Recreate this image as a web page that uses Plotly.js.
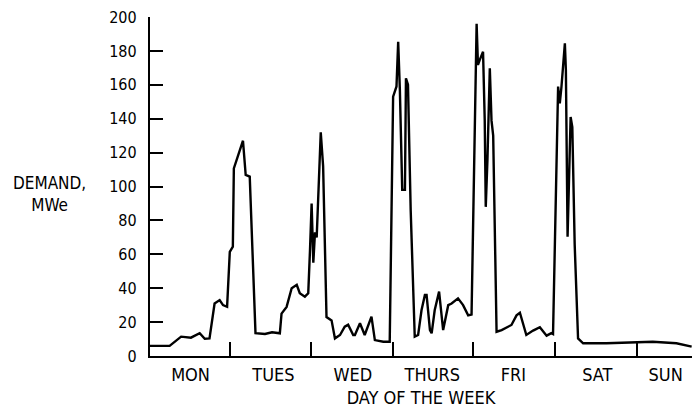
<!DOCTYPE html>
<html>
<head>
<meta charset="utf-8">
<script src="https://cdn.plot.ly/plotly-3.0.1.min.js"></script>
<style>html,body{margin:0;padding:0;background:#fff;}#chart{width:692px;height:411px;}</style>
</head>
<body>
<div id="chart"></div>
<script>
// Hours since start of Monday
const hours = [0, 5.8, 9.2, 12.1, 14.7, 16.2, 17.6, 19.1, 20.6, 21.6, 22.8, 23.6, 24.5, 24.8, 27.5, 28.3, 29.5,
  31.2, 34.0, 36.1, 38.4, 38.9, 40.4, 41.9, 43.4, 44.3, 45.8, 46.8, 47.3, 47.8, 48.3, 48.8, 49.3, 50.5, 51.2,
  52.2, 53.7, 54.7, 56.2, 57.6, 58.6, 60.1, 60.6, 62.1, 63.5, 65.5, 66.5, 69.0, 70.9,
  71.9, 72.9, 73.4, 73.9, 74.6, 75.4, 75.7, 76.3, 77.1, 78.3, 79.3, 80.3, 81.3, 81.8, 82.8, 83.3, 84.2, 85.5,
  86.7, 88.2, 89.2, 91.1, 92.6, 94.1, 95.1,
  96.6, 97.0, 97.5, 98.5, 99.0, 99.3, 99.8, 100.5, 101.0, 101.5, 102.5, 104.0, 106.9, 108.4, 109.4,
  111.3, 113.3, 115.3, 117.3, 118.7, 119.2,
  120.7, 121.2, 121.7, 122.7, 123.0, 123.5, 123.9, 124.4, 124.9, 125.6, 126.6, 128.1, 135.0, 142.9,
  148.7, 155.7, 160.2];
// Demand, MWe
const demand = [6, 6, 11.4, 10.8, 13.4, 10.2, 10.4, 31, 33, 30, 29, 61.5, 64.5, 110.7, 127, 106.8, 105.8,
  13.5, 13, 14, 13.4, 25, 29, 40, 42, 37, 35, 37, 61.5, 90, 55, 73, 70, 132, 112,
  23, 21, 10.4, 12.4, 17.3, 18.5, 12.4, 12.4, 19.3, 12.4, 23.2, 9.4, 8.4, 8.4,
  153, 159, 185.4, 157, 98, 98, 163.8, 160, 86, 11.4, 12.4, 27, 36, 36, 15.3, 13.4, 27, 38,
  15.3, 30, 31, 34, 30, 24, 24.5,
  196, 171.7, 174.6, 179.5, 139, 88, 115.6, 169.7, 139, 130, 14.3, 15.3, 18.3, 24, 25.5,
  12.4, 15, 17, 12, 13.5, 13,
  159, 149, 159, 184.5, 168.7, 70.4, 111.7, 141, 135, 66, 10.4, 7.5, 7.5, 8,
  8.4, 7.5, 5.5];

const dayNames = ['MON', 'TUES', 'WED', 'THURS', 'FRI', 'SAT', 'SUN'];
const dayLabelPos = [12, 36.5, 60, 83.5, 107.5, 132.3, 152.5];
const dayBoundaries = [23.6, 47.6, 71.8, 95.5, 119.7, 144];
const yTicks = [0, 20, 40, 60, 80, 100, 120, 140, 160, 180, 200];

const FONT = '"DejaVu Sans Condensed", "Liberation Sans Narrow", sans-serif';
const xRange = [0, 160.3];

const traces = [
  {x: hours, y: demand, type: 'scatter', mode: 'lines',
   line: {color: '#000', width: 2.4, shape: 'linear'}, hoverinfo: 'skip', xaxis: 'x', yaxis: 'y'},
  {x: [], y: [], type: 'scatter', mode: 'lines', xaxis: 'x2', yaxis: 'y', hoverinfo: 'skip'}
];

const layout = {
  width: 692, height: 411,
  margin: {l: 150, r: 0, t: 17, b: 55},
  paper_bgcolor: '#fff', plot_bgcolor: '#fff',
  showlegend: false,
  font: {family: FONT, color: '#000'},
  xaxis: {
    range: xRange, tickmode: 'array', tickvals: dayLabelPos, ticktext: dayNames,
    ticks: '', showgrid: false, zeroline: false, showline: true, linecolor: '#000', linewidth: 2,
    tickfont: {size: 18, family: FONT, color: '#000'}, ticklabelstandoff: 1,
    title: {text: 'DAY OF THE WEEK', font: {size: 18, family: FONT, color: '#000'}, standoff: 8},
    fixedrange: true
  },
  xaxis2: {
    range: xRange, overlaying: 'x', anchor: 'y', side: 'bottom',
    tickmode: 'array', tickvals: dayBoundaries, ticks: 'inside', ticklen: 14, tickwidth: 1.6, tickcolor: '#000',
    showticklabels: false, showgrid: false, zeroline: false, showline: false, fixedrange: true
  },
  yaxis: {
    range: [0, 200], tickmode: 'array', tickvals: yTicks,
    ticks: 'inside', ticklen: 13, tickwidth: 2, tickcolor: '#000',
    showgrid: false, zeroline: false, showline: true, linecolor: '#000', linewidth: 2.2,
    tickfont: {size: 16, family: FONT, color: '#000'}, ticklabelstandoff: 8, fixedrange: true
  },
  annotations: [{
    text: 'DEMAND,<br>MWe', xref: 'paper', yref: 'paper', x: -0.185, y: 0.478,
    xanchor: 'center', yanchor: 'middle', showarrow: false, align: 'center',
    font: {size: 17, family: FONT, color: '#000'}
  }]
};

Plotly.newPlot('chart', traces, layout, {displayModeBar: false, staticPlot: true});
</script>
</body>
</html>
